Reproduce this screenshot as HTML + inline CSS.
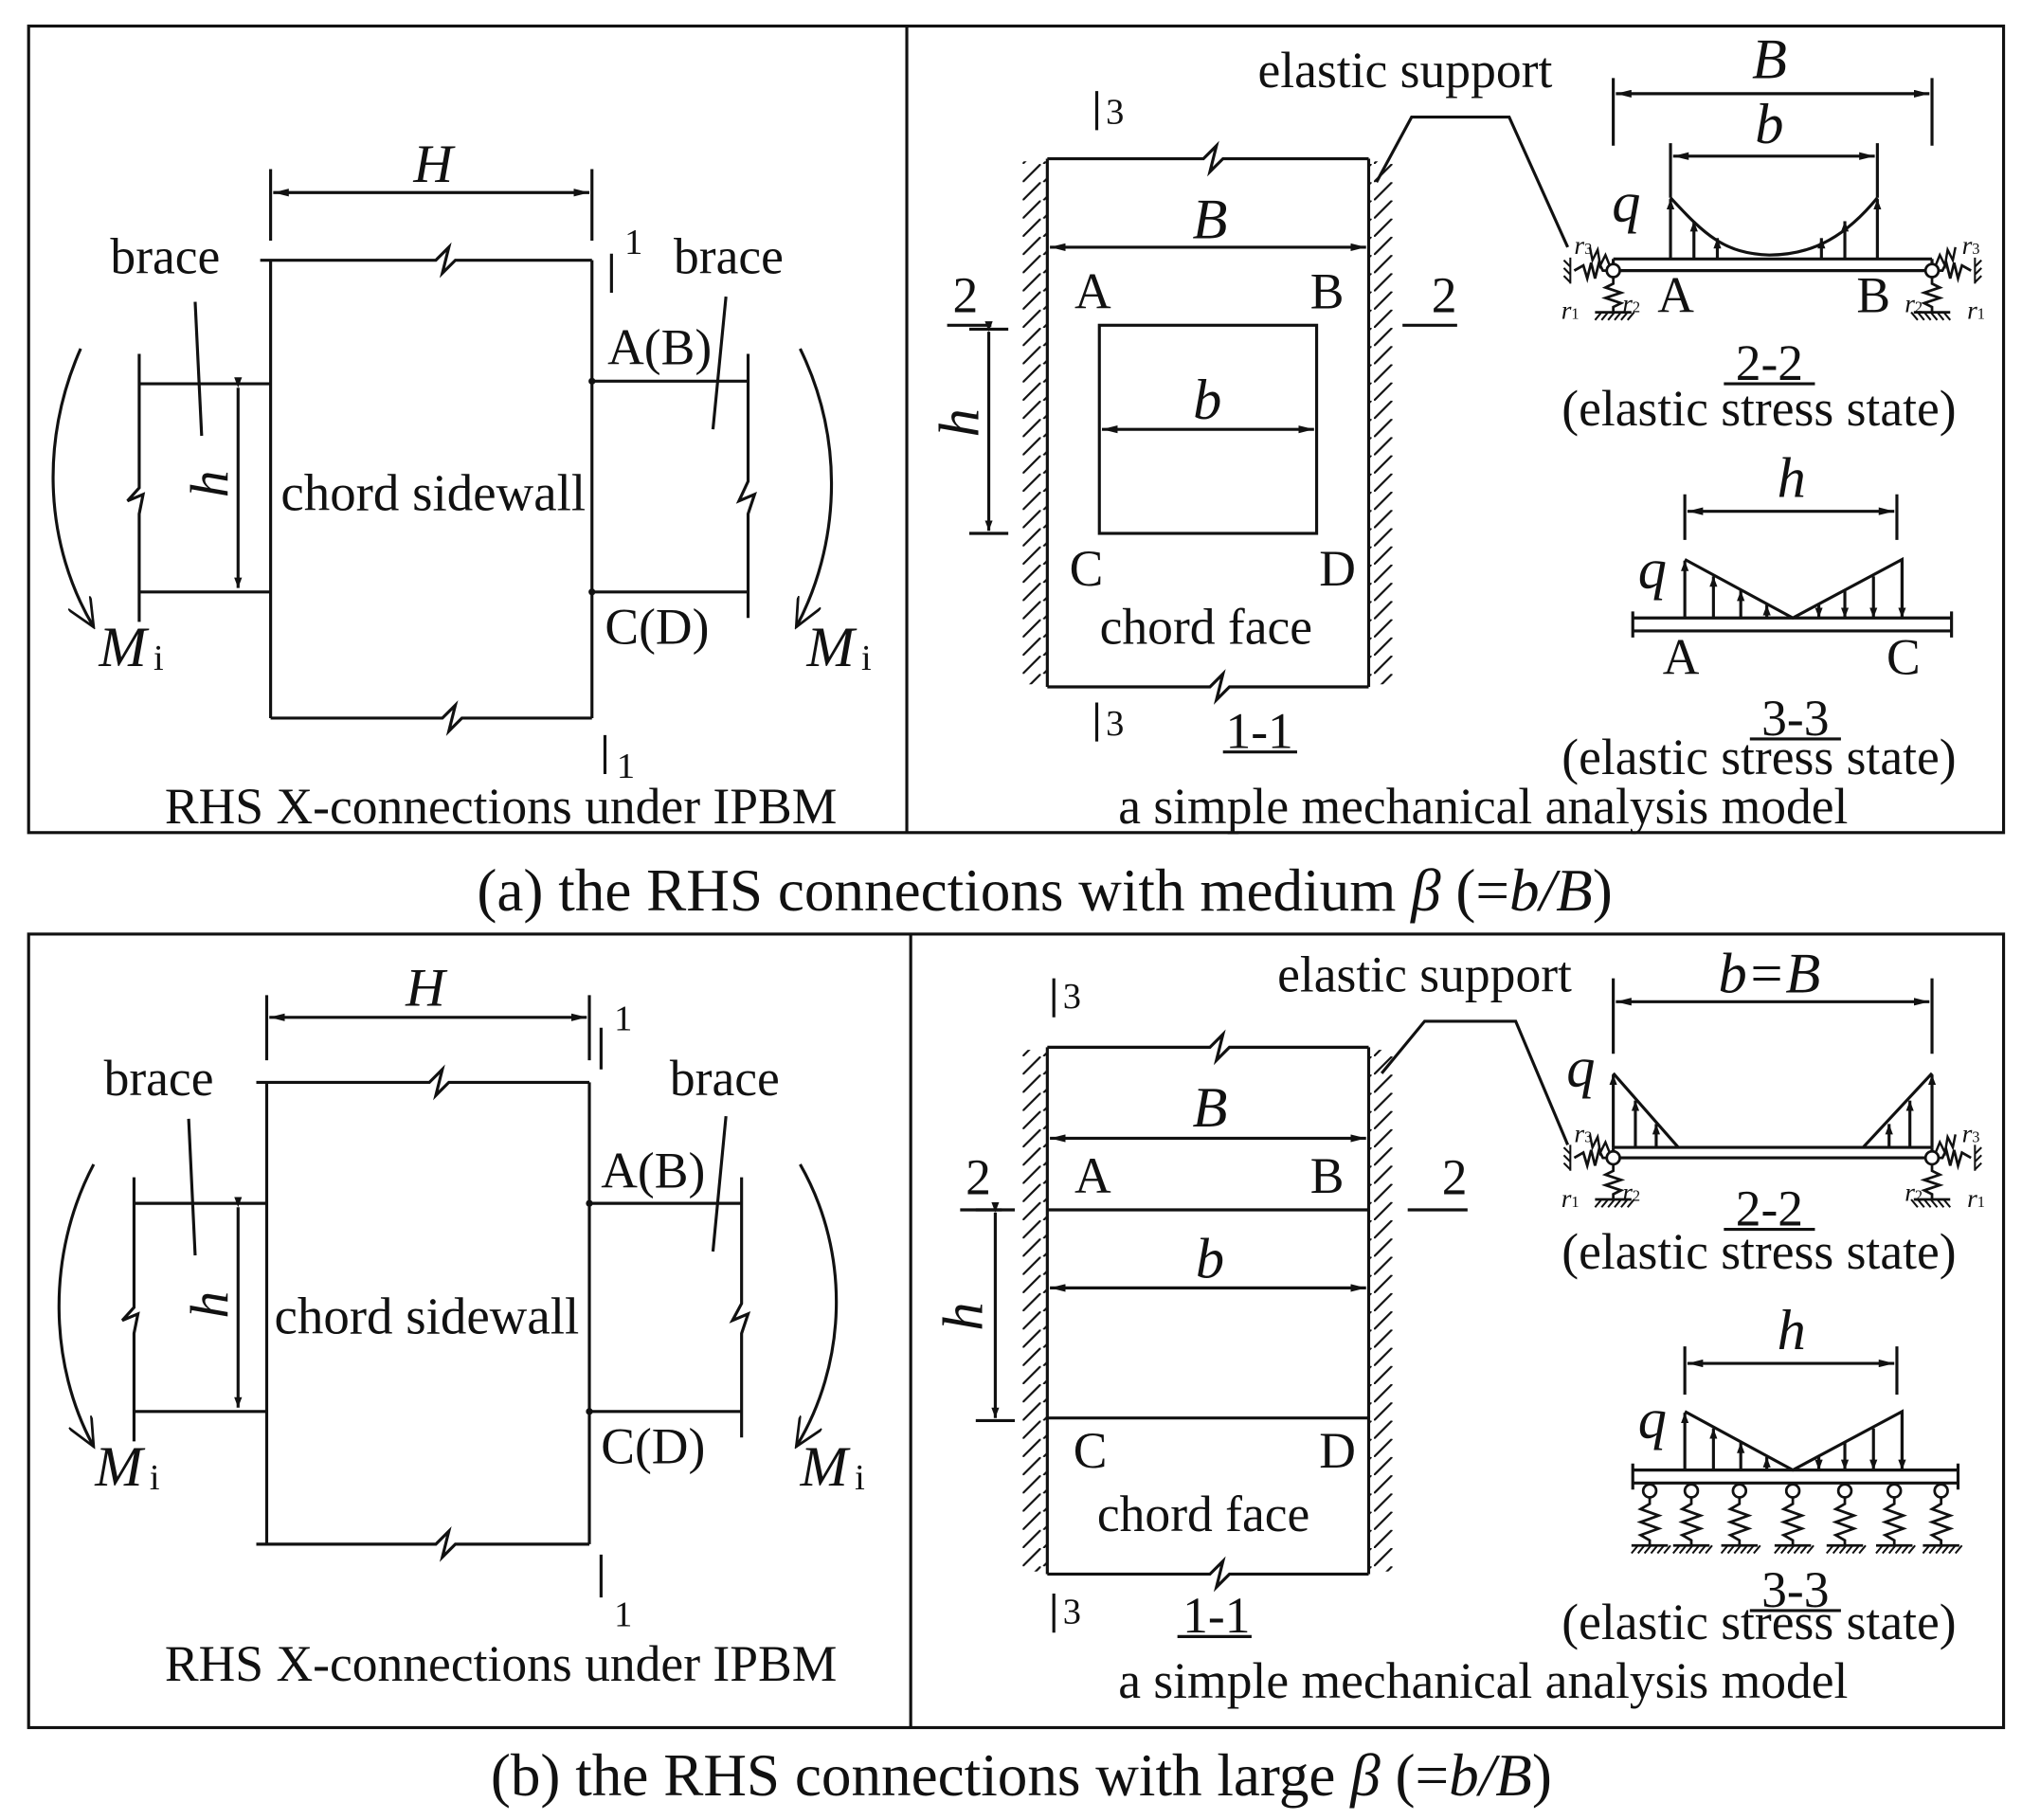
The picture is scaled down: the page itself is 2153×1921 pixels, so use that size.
<!DOCTYPE html>
<html><head><meta charset="utf-8"><style>
html,body{margin:0;padding:0;background:#fff}
svg{display:block}
text{font-family:"Liberation Serif",serif;fill:#111}
.i{font-style:italic}
</style></head><body>
<svg width="2153" height="1921" viewBox="0 0 1568 1399" xmlns="http://www.w3.org/2000/svg">
<defs>
<marker id="a" viewBox="0 0 12 6" refX="12" refY="3" markerWidth="12" markerHeight="6" markerUnits="userSpaceOnUse" orient="auto-start-reverse"><path d="M0,0 L12,3 L0,6 Z" fill="#111"/></marker>
<marker id="s" viewBox="0 0 8 6" refX="8" refY="3" markerWidth="8" markerHeight="6" markerUnits="userSpaceOnUse" orient="auto"><path d="M0,0 L8,3 L0,6 Z" fill="#111"/></marker>
<marker id="o" viewBox="0 0 24 20" refX="22" refY="10" markerWidth="24" markerHeight="20" markerUnits="userSpaceOnUse" orient="auto"><path d="M0,0 L22,10 L0,20" fill="none" stroke="#111" stroke-width="2"/></marker>
<pattern id="hl" width="16" height="14" patternUnits="userSpaceOnUse"><path d="M16,0 L2,14" stroke="#111" stroke-width="1.6"/></pattern>
<pattern id="hr" width="16" height="14" patternUnits="userSpaceOnUse"><path d="M14,0 L0,14" stroke="#111" stroke-width="1.6"/></pattern>
<g id="gnd"><path d="M-14,0 H14" stroke="#111" stroke-width="2"/><path d="M-14,6 L-9,0 M-9,6 L-4,0 M-4,6 L1,0 M1,6 L6,0 M6,6 L11,0 M11,6 L16,0" stroke="#111" stroke-width="1.5"/></g>
<g id="vs"><circle cx="0" cy="6" r="5" fill="#fff" stroke="#111" stroke-width="2"/><path d="M0,11 V16 L-7,20 L7,25 L-7,30 L7,35 L-7,40 L0,44 V48" fill="none" stroke="#111" stroke-width="2"/><use href="#gnd" y="48"/></g>
<g id="sup"><path d="M0,0 V10 L-6,13 L6,17 L-6,21 L6,25 L0,28 V32" fill="none" stroke="#111" stroke-width="2"/><use href="#gnd" y="32"/>
<path d="M-2,0 H-8 L-11,-6 L-14,6 L-17,-6 L-20,6 L-23,-4 L-30,0" fill="none" stroke="#111" stroke-width="2"/><path d="M-33,-10 V10 M-38,-8 L-33,-3 M-38,-2 L-33,3 M-38,4 L-33,9" stroke="#111" stroke-width="1.5"/>
<path d="M-2,-2 L-6,-12 L-10,-4 L-12,-16 L-16,-8 L-18,-18" fill="none" stroke="#111" stroke-width="1.8"/>
<circle cx="0" cy="0" r="5" fill="#fff" stroke="#111" stroke-width="2"/></g>
</defs>
<g fill="none" stroke="#111" stroke-width="2.3">
<rect x="22" y="20" width="1518" height="620"/><line x1="697" y1="20" x2="697" y2="640"/>
<rect x="22" y="718" width="1518" height="610"/><line x1="700" y1="718" x2="700" y2="1328"/>

<path d="M200,200 H335 L345,190 L340,210 L350,200 H455"/>
<path d="M208,200 V552 M455,200 V552"/>
<path d="M208,552 H340 L350,542 L345,562 L355,552 H455"/>
<path d="M208,130 V185 M455,130 V185"/>
<line x1="210" y1="148" x2="453" y2="148" marker-start="url(#a)" marker-end="url(#a)"/>
<path d="M470,195 V225 M465,565 V595"/>
<path d="M107,272 V375 L98,385 L110,380 L107,395 V478 M107,295 H208 M107,455 H208"/>
<line x1="183" y1="298" x2="183" y2="452" marker-start="url(#s)" marker-end="url(#s)"/>
<path d="M455,293 H575 M455,455 H575 M575,272 V370 L568,385 L580,380 L575,395 V475"/>
<circle cx="455" cy="293" r="1.5" fill="#111"/><circle cx="455" cy="455" r="1.5" fill="#111"/>
<path d="M150,232 L155,335 M558,228 L548,330"/>
<path d="M62,268 C30,340 35,420 72,482" marker-end="url(#o)"/>
<path d="M615,268 C650,340 645,420 612,482" marker-end="url(#o)"/>

<path d="M805,122 H925 L935,112 L930,132 L940,122 H1052"/>
<path d="M805,528 H930 L940,518 L935,538 L945,528 H1052"/>
<path d="M805,122 V528 M1052,122 V528"/>
<path d="M843,70 V100 M843,540 V570"/>
<line x1="807" y1="190" x2="1050" y2="190" marker-start="url(#a)" marker-end="url(#a)"/>
<rect x="845" y="250" width="167" height="160"/>
<line x1="847" y1="330" x2="1010" y2="330" marker-start="url(#a)" marker-end="url(#a)"/>
<path d="M745,253 H775 M745,410 H775"/>
<line x1="760" y1="255" x2="760" y2="408" marker-start="url(#s)" marker-end="url(#s)"/>
<path d="M728,250 H762 M1078,250 H1120 M940,578 H997"/>
<path d="M1058,140 L1085,90 H1160 L1205,190"/>
<path d="M1240,60 V112 M1485,60 V112 M1284,110 V152 M1443,110 V152"/>
<line x1="1242" y1="72" x2="1483" y2="72" marker-start="url(#a)" marker-end="url(#a)"/>
<line x1="1286" y1="120" x2="1441" y2="120" marker-start="url(#a)" marker-end="url(#a)"/>
<path d="M1240,199 H1485 M1240,208 H1485 M1240,199 V208 M1485,199 V208"/>
<path d="M1284,152 C1310,180 1325,195 1360,196 C1395,196 1420,180 1443,152"/>
<g marker-end="url(#s)"><line x1="1284" y1="199" x2="1284" y2="153"/><line x1="1302" y1="199" x2="1302" y2="170"/><line x1="1320" y1="199" x2="1320" y2="183"/><line x1="1400" y1="199" x2="1400" y2="183"/><line x1="1418" y1="199" x2="1418" y2="170"/><line x1="1443" y1="199" x2="1443" y2="153"/></g>
<use href="#sup" x="1240" y="208"/><use href="#sup" transform="translate(1485,208) scale(-1,1)"/>
<path d="M1325,295 H1395"/>
<path d="M1295,380 V415 M1458,380 V415"/>
<line x1="1297" y1="393" x2="1456" y2="393" marker-start="url(#a)" marker-end="url(#a)"/>
<path d="M1255,475 H1500 M1255,485 H1500 M1255,470 V490 M1500,470 V490"/>
<path d="M1295,430 L1378,475 L1462,430 V475"/>
<g marker-end="url(#s)"><line x1="1295" y1="475" x2="1295" y2="431"/><line x1="1317" y1="475" x2="1317" y2="443"/><line x1="1338" y1="475" x2="1338" y2="454"/><line x1="1358" y1="475" x2="1358" y2="465"/><line x1="1398" y1="465" x2="1398" y2="475"/><line x1="1418" y1="454" x2="1418" y2="475"/><line x1="1440" y1="443" x2="1440" y2="475"/><line x1="1462" y1="431" x2="1462" y2="475"/></g>
<path d="M1345,568 H1415"/>

<path d="M197,832 H330 L340,822 L335,842 L345,832 H453"/>
<path d="M205,832 V1187 M453,832 V1187"/>
<path d="M197,1187 H335 L345,1177 L340,1197 L350,1187 H453"/>
<path d="M205,765 V815 M453,765 V815"/>
<line x1="207" y1="782" x2="451" y2="782" marker-start="url(#a)" marker-end="url(#a)"/>
<path d="M462,790 V822 M462,1195 V1228"/>
<path d="M103,905 V1005 L94,1015 L106,1010 L103,1025 V1108 M103,925 H205 M103,1085 H205"/>
<line x1="183" y1="928" x2="183" y2="1082" marker-start="url(#s)" marker-end="url(#s)"/>
<path d="M453,925 H570 M453,1085 H570 M570,905 V1002 L563,1015 L575,1010 L570,1025 V1105"/>
<circle cx="453" cy="925" r="1.5" fill="#111"/><circle cx="453" cy="1085" r="1.5" fill="#111"/>
<path d="M145,860 L150,965 M558,858 L548,962"/>
<path d="M72,895 C35,965 38,1050 72,1112" marker-end="url(#o)"/>
<path d="M615,895 C655,965 650,1050 612,1112" marker-end="url(#o)"/>

<path d="M805,805 H930 L940,795 L935,815 L945,805 H1052"/>
<path d="M805,1210 H930 L940,1200 L935,1220 L945,1210 H1052"/>
<path d="M805,805 V1210 M1052,805 V1210 M805,930 H1052 M805,1090 H1052"/>
<path d="M810,752 V782 M810,1225 V1255"/>
<line x1="807" y1="875" x2="1050" y2="875" marker-start="url(#a)" marker-end="url(#a)"/>
<line x1="807" y1="990" x2="1050" y2="990" marker-start="url(#a)" marker-end="url(#a)"/>
<path d="M750,930 H780 M750,1092 H780"/>
<line x1="765" y1="932" x2="765" y2="1090" marker-start="url(#s)" marker-end="url(#s)"/>
<path d="M738,930 H770 M1082,930 H1128 M905,1258 H962"/>
<path d="M1062,825 L1095,785 H1165 L1205,880"/>
<path d="M1240,752 V810 M1485,752 V810"/>
<line x1="1242" y1="770" x2="1483" y2="770" marker-start="url(#a)" marker-end="url(#a)"/>
<path d="M1240,882 H1485 M1240,890 H1485 M1240,882 V890 M1485,882 V890"/>
<path d="M1240,825 L1290,882 M1485,825 L1432,882"/>
<g marker-end="url(#s)"><line x1="1240" y1="882" x2="1240" y2="826"/><line x1="1257" y1="882" x2="1257" y2="846"/><line x1="1273" y1="882" x2="1273" y2="864"/><line x1="1452" y1="882" x2="1452" y2="864"/><line x1="1468" y1="882" x2="1468" y2="846"/><line x1="1485" y1="882" x2="1485" y2="826"/></g>
<use href="#sup" x="1240" y="890"/><use href="#sup" transform="translate(1485,890) scale(-1,1)"/>
<path d="M1325,945 H1395"/>
<path d="M1295,1035 V1072 M1458,1035 V1072"/>
<line x1="1297" y1="1048" x2="1456" y2="1048" marker-start="url(#a)" marker-end="url(#a)"/>
<path d="M1255,1130 H1505 M1255,1140 H1505 M1255,1125 V1145 M1505,1125 V1145"/>
<path d="M1295,1085 L1378,1130 L1462,1085 V1130"/>
<g marker-end="url(#s)"><line x1="1295" y1="1130" x2="1295" y2="1086"/><line x1="1317" y1="1130" x2="1317" y2="1098"/><line x1="1338" y1="1130" x2="1338" y2="1109"/><line x1="1358" y1="1130" x2="1358" y2="1120"/><line x1="1398" y1="1120" x2="1398" y2="1130"/><line x1="1418" y1="1109" x2="1418" y2="1130"/><line x1="1440" y1="1098" x2="1440" y2="1130"/><line x1="1462" y1="1086" x2="1462" y2="1130"/></g>
<use href="#vs" x="1268" y="1140"/><use href="#vs" x="1300" y="1140"/><use href="#vs" x="1337" y="1140"/><use href="#vs" x="1378" y="1140"/><use href="#vs" x="1418" y="1140"/><use href="#vs" x="1456" y="1140"/><use href="#vs" x="1492" y="1140"/>
<path d="M1345,1238 H1415"/>
</g>
<rect x="786" y="124" width="19" height="402" fill="url(#hl)"/>
<rect x="1052" y="124" width="19" height="402" fill="url(#hr)"/>
<rect x="786" y="807" width="19" height="401" fill="url(#hl)"/>
<rect x="1052" y="807" width="19" height="401" fill="url(#hr)"/>

<g font-size="39">
<text x="333" y="140" class="i" font-size="42" text-anchor="middle">H</text>
<text x="480" y="195" font-size="28">1</text><text x="474" y="598" font-size="28">1</text>
<text x="127" y="210" text-anchor="middle">brace</text><text x="560" y="210" text-anchor="middle">brace</text>
<text x="507" y="280" text-anchor="middle">A(B)</text><text x="505" y="495" text-anchor="middle">C(D)</text>
<text x="333" y="392" text-anchor="middle" font-size="40">chord sidewall</text>
<text transform="translate(175,372) rotate(-90)" class="i" font-size="42" text-anchor="middle">h</text>
<text x="76" y="512" class="i" font-size="44">M</text><text x="118" y="515" font-size="28">i</text>
<text x="620" y="512" class="i" font-size="44">M</text><text x="662" y="515" font-size="28">i</text>
<text x="385" y="633" text-anchor="middle">RHS X-connections under IPBM</text>

<text x="1080" y="67" text-anchor="middle">elastic support</text>
<text x="850" y="95" font-size="28">3</text><text x="850" y="565" font-size="28">3</text>
<text x="930" y="183" class="i" font-size="44" text-anchor="middle">B</text>
<text x="840" y="237" text-anchor="middle">A</text><text x="1020" y="237" text-anchor="middle">B</text>
<text x="928" y="322" class="i" font-size="44" text-anchor="middle">b</text>
<text transform="translate(752,325) rotate(-90)" class="i" font-size="44" text-anchor="middle">h</text>
<text x="742" y="240" text-anchor="middle">2</text><text x="1110" y="240" text-anchor="middle">2</text>
<text x="835" y="450" text-anchor="middle">C</text><text x="1028" y="450" text-anchor="middle">D</text>
<text x="927" y="495" text-anchor="middle">chord face</text>
<text x="968" y="575" text-anchor="middle">1-1</text>
<text x="1360" y="60" class="i" font-size="44" text-anchor="middle">B</text>
<text x="1360" y="110" class="i" font-size="44" text-anchor="middle">b</text>
<text x="1250" y="170" class="i" font-size="44" text-anchor="middle">q</text>
<text x="1288" y="240" text-anchor="middle">A</text><text x="1440" y="240" text-anchor="middle">B</text>
<text x="1210" y="195" class="i" font-size="20">r<tspan font-size="12" font-style="normal">3</tspan></text><text x="1200" y="245" class="i" font-size="20">r<tspan font-size="12" font-style="normal">1</tspan></text><text x="1247" y="240" class="i" font-size="20">r<tspan font-size="12" font-style="normal">2</tspan></text>
<text x="1508" y="195" class="i" font-size="20">r<tspan font-size="12" font-style="normal">3</tspan></text><text x="1512" y="245" class="i" font-size="20">r<tspan font-size="12" font-style="normal">1</tspan></text><text x="1464" y="240" class="i" font-size="20">r<tspan font-size="12" font-style="normal">2</tspan></text>
<text x="1360" y="292" text-anchor="middle">2-2</text>
<text x="1352" y="327" text-anchor="middle">(elastic stress state)</text>
<text x="1377" y="382" class="i" font-size="44" text-anchor="middle">h</text>
<text x="1270" y="452" class="i" font-size="44" text-anchor="middle">q</text>
<text x="1292" y="518" text-anchor="middle">A</text><text x="1463" y="518" text-anchor="middle">C</text>
<text x="1380" y="565" text-anchor="middle">3-3</text>
<text x="1352" y="595" text-anchor="middle">(elastic stress state)</text>
<text x="1140" y="633" text-anchor="middle">a simple mechanical analysis model</text>

<text x="803" y="700" text-anchor="middle" font-size="46">(a) the RHS connections with medium <tspan class="i">β</tspan> (=<tspan class="i">b/B</tspan>)</text>

<text x="327" y="773" class="i" font-size="42" text-anchor="middle">H</text>
<text x="472" y="792" font-size="28">1</text><text x="472" y="1250" font-size="28">1</text>
<text x="122" y="842" text-anchor="middle">brace</text><text x="557" y="842" text-anchor="middle">brace</text>
<text x="502" y="913" text-anchor="middle">A(B)</text><text x="502" y="1125" text-anchor="middle">C(D)</text>
<text x="328" y="1025" text-anchor="middle" font-size="40">chord sidewall</text>
<text transform="translate(175,1003) rotate(-90)" class="i" font-size="42" text-anchor="middle">h</text>
<text x="73" y="1142" class="i" font-size="44">M</text><text x="115" y="1145" font-size="28">i</text>
<text x="615" y="1142" class="i" font-size="44">M</text><text x="657" y="1145" font-size="28">i</text>
<text x="385" y="1292" text-anchor="middle">RHS X-connections under IPBM</text>

<text x="1095" y="762" text-anchor="middle">elastic support</text>
<text x="817" y="775" font-size="28">3</text><text x="817" y="1248" font-size="28">3</text>
<text x="930" y="866" class="i" font-size="44" text-anchor="middle">B</text>
<text x="840" y="917" text-anchor="middle">A</text><text x="1020" y="917" text-anchor="middle">B</text>
<text x="930" y="982" class="i" font-size="44" text-anchor="middle">b</text>
<text transform="translate(755,1012) rotate(-90)" class="i" font-size="44" text-anchor="middle">h</text>
<text x="752" y="918" text-anchor="middle">2</text><text x="1118" y="918" text-anchor="middle">2</text>
<text x="838" y="1128" text-anchor="middle">C</text><text x="1028" y="1128" text-anchor="middle">D</text>
<text x="925" y="1177" text-anchor="middle">chord face</text>
<text x="935" y="1255" text-anchor="middle">1-1</text>
<text x="1360" y="763" class="i" font-size="44" text-anchor="middle">b=B</text>
<text x="1215" y="835" class="i" font-size="44" text-anchor="middle">q</text>
<text x="1210" y="878" class="i" font-size="20">r<tspan font-size="12" font-style="normal">3</tspan></text><text x="1200" y="928" class="i" font-size="20">r<tspan font-size="12" font-style="normal">1</tspan></text><text x="1247" y="923" class="i" font-size="20">r<tspan font-size="12" font-style="normal">2</tspan></text>
<text x="1508" y="878" class="i" font-size="20">r<tspan font-size="12" font-style="normal">3</tspan></text><text x="1512" y="928" class="i" font-size="20">r<tspan font-size="12" font-style="normal">1</tspan></text><text x="1464" y="923" class="i" font-size="20">r<tspan font-size="12" font-style="normal">2</tspan></text>
<text x="1360" y="942" text-anchor="middle">2-2</text>
<text x="1352" y="975" text-anchor="middle">(elastic stress state)</text>
<text x="1377" y="1037" class="i" font-size="44" text-anchor="middle">h</text>
<text x="1270" y="1105" class="i" font-size="44" text-anchor="middle">q</text>
<text x="1380" y="1235" text-anchor="middle">3-3</text>
<text x="1352" y="1260" text-anchor="middle">(elastic stress state)</text>
<text x="1140" y="1305" text-anchor="middle">a simple mechanical analysis model</text>

<text x="785" y="1380" text-anchor="middle" font-size="46">(b) the RHS connections with large <tspan class="i">β</tspan> (=<tspan class="i">b/B</tspan>)</text>
</g>
</svg>
</body></html>
